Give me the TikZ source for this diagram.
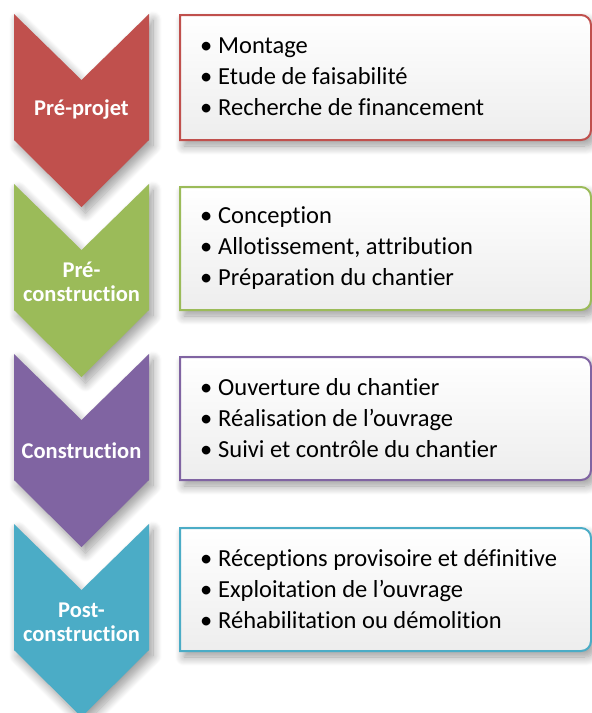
\documentclass[tikz,border=0pt]{standalone}
\usepackage{fontspec}
\setmainfont{Carlito}[Ligatures={NoCommon}]
\usetikzlibrary{shadows.blur}

\definecolor{rouge}{HTML}{C0504D}
\definecolor{vert}{HTML}{9BBB59}
\definecolor{violet}{HTML}{8064A2}
\definecolor{bleu}{HTML}{4BACC6}

\newcommand{\puce}{\makebox[18pt][l]{\textbullet}}

\tikzset{
  ombre/.style={blur shadow={shadow xshift=4pt, shadow yshift=-6pt, shadow blur radius=9pt, shadow blur steps=12, shadow opacity=40}},
  fleche/.style={ombre, draw=none},
  cadre/.style={ombre, line width=2pt, top color=white, bottom color=black!7},
  etape/.style={text=white, font=\bfseries\fontsize{22.5}{24}\selectfont, align=center, inner sep=0pt},
  liste/.style={anchor=west, font=\fontsize{24.5}{31}\selectfont, align=left, inner sep=0pt}
}

\begin{document}
\begin{tikzpicture}[x=1pt, y=-1pt]

%%%%%%%%%%%%%%%%%%%%%%
%%%	 Def géométrie  %%%
%%%%%%%%%%%%%%%%%%%%%%

\def \gauche{14}
\def \droite{149}
\def \milieu{81.5}
\def \encoche{66}
\def \flanc{126}
\def \pointe{193}
\def \boxg{180}
\def \boxd{591}
\def \texte{200}

\useasboundingbox (0,0) rectangle (592,713);

%%%%%%%%%%%%%%%%%%%%%%
%%%	    Chevrons    %%%
%%%%%%%%%%%%%%%%%%%%%%

% Pré-projet
\fill[fleche, rouge] (\gauche,14) -- (\milieu,14+\encoche) -- (\droite,14) -- (\droite,14+\flanc) -- (\milieu,14+\pointe) -- (\gauche,14+\flanc) -- cycle;
\node[etape] (E1) at (\milieu,110) {Pré-projet};

% Pré-construction
\fill[fleche, vert] (\gauche,184) -- (\milieu,184+\encoche) -- (\droite,184) -- (\droite,184+\flanc) -- (\milieu,184+\pointe) -- (\gauche,184+\flanc) -- cycle;
\node[etape] (E2) at (\milieu,282) {Pré-\\construction};

% Construction
\fill[fleche, violet] (\gauche,354) -- (\milieu,354+\encoche) -- (\droite,354) -- (\droite,354+\flanc) -- (\milieu,354+\pointe) -- (\gauche,354+\flanc) -- cycle;
\node[etape] (E3) at (\milieu,451) {Construction};

% Post-construction
\fill[fleche, bleu] (\gauche,524) -- (\milieu,524+\encoche) -- (\droite,524) -- (\droite,524+\flanc) -- (\milieu,524+\pointe) -- (\gauche,524+\flanc) -- cycle;
\node[etape] (E4) at (\milieu,622) {Post-\\construction};

%%%%%%%%%%%%%%%%%%%%%%
%%%	    Cadres      %%%
%%%%%%%%%%%%%%%%%%%%%%

\draw[cadre, draw=rouge] (\boxg,15) [rounded corners=10pt] -- (\boxd,15) -- (\boxd,140) [sharp corners] -- (\boxg,140) -- cycle;
\node[liste] (L1) at (\texte,77) {\puce Montage\\ \puce Etude de faisabilité\\ \puce Recherche de financement};

\draw[cadre, draw=vert] (\boxg,187) [rounded corners=10pt] -- (\boxd,187) -- (\boxd,310) [sharp corners] -- (\boxg,310) -- cycle;
\node[liste] (L2) at (\texte,248) {\puce Conception\\ \puce Allotissement, attribution\\ \puce Préparation du chantier};

\draw[cadre, draw=violet] (\boxg,357) [rounded corners=10pt] -- (\boxd,357) -- (\boxd,480) [sharp corners] -- (\boxg,480) -- cycle;
\node[liste] (L3) at (\texte,418) {\puce Ouverture du chantier\\ \puce Réalisation de l’ouvrage\\ \puce Suivi et contrôle du chantier};

\draw[cadre, draw=bleu] (\boxg,528) [rounded corners=10pt] -- (\boxd,528) -- (\boxd,651) [sharp corners] -- (\boxg,651) -- cycle;
\node[liste] (L4) at (\texte,589) {\puce Réceptions provisoire et définitive\\ \puce Exploitation de l’ouvrage\\ \puce Réhabilitation ou démolition};

%%%%%%%%%%%%%%%%%%%%%%%%%%%%%%%%%%%%%%%%%

\end{tikzpicture}
\end{document}
